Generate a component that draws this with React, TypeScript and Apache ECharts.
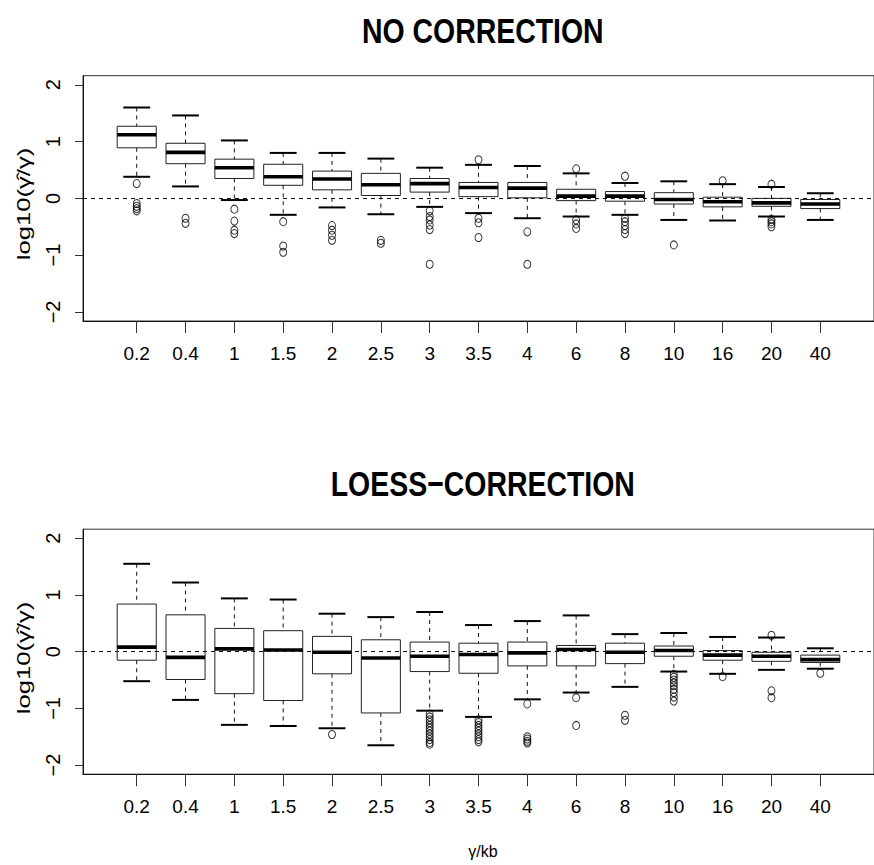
import React, { useEffect, useRef } from "react";
import * as echarts from "echarts";

// Window sizes (kb) shown along the x axis
const categories = ["0.2", "0.4", "1", "1.5", "2", "2.5", "3", "3.5", "4", "6", "8", "10", "16", "20", "40"];
const yTicks = [-2, -1, 0, 1, 2];

// Panel 1: NO CORRECTION — box statistics per window size
const rawUpper = [1.6, 1.46, 1.02, 0.8, 0.8, 0.7, 0.54, 0.59, 0.57, 0.44, 0.27, 0.3, 0.25, 0.2, 0.09];
const rawQ3 = [1.27, 0.97, 0.69, 0.6, 0.48, 0.44, 0.35, 0.28, 0.28, 0.16, 0.12, 0.1, 0.02, 0.0, -0.02];
const rawMedian = [1.12, 0.81, 0.54, 0.38, 0.34, 0.24, 0.26, 0.19, 0.18, 0.04, 0.04, -0.02, -0.06, -0.08, -0.1];
const rawQ1 = [0.89, 0.61, 0.35, 0.23, 0.15, 0.05, 0.11, 0.03, 0.01, -0.04, -0.05, -0.1, -0.15, -0.14, -0.18];
const rawLower = [0.38, 0.21, -0.03, -0.29, -0.16, -0.28, -0.15, -0.26, -0.35, -0.32, -0.29, -0.38, -0.39, -0.32, -0.38];
const rawOutliers = [
  [0.26, -0.09, -0.14, -0.18, -0.22],
  [-0.35, -0.44],
  [-0.19, -0.4, -0.56, -0.62],
  [-0.41, -0.84, -0.95],
  [-0.48, -0.56, -0.65, -0.74],
  [-0.74, -0.79],
  [-0.22, -0.32, -0.38, -0.47, -0.55, -1.16],
  [0.68, -0.35, -0.43, -0.69],
  [-0.59, -1.16],
  [0.52, -0.38, -0.45, -0.53],
  [0.39, -0.35, -0.41, -0.48, -0.55, -0.62],
  [-0.82],
  [0.31],
  [0.25, -0.37, -0.41, -0.45, -0.5],
  [],
];

// Panel 2: LOESS-CORRECTION — box statistics per window size
const loessUpper = [1.55, 1.22, 0.94, 0.92, 0.67, 0.61, 0.7, 0.47, 0.54, 0.64, 0.31, 0.33, 0.26, 0.25, 0.06];
const loessQ3 = [0.84, 0.65, 0.41, 0.37, 0.27, 0.21, 0.17, 0.15, 0.17, 0.11, 0.15, 0.1, 0.02, -0.01, -0.06];
const loessMedian = [0.08, -0.1, 0.05, 0.03, -0.01, -0.11, -0.08, -0.05, -0.02, 0.04, -0.01, 0.02, -0.06, -0.08, -0.14];
const loessQ1 = [-0.15, -0.49, -0.74, -0.86, -0.39, -1.08, -0.35, -0.38, -0.25, -0.25, -0.21, -0.08, -0.15, -0.17, -0.19];
const loessLower = [-0.52, -0.85, -1.29, -1.31, -1.35, -1.65, -1.04, -1.15, -0.84, -0.72, -0.62, -0.35, -0.39, -0.32, -0.3];
const loessOutliers = [
  [],
  [],
  [],
  [],
  [-1.46],
  [],
  [-1.1, -1.15, -1.2, -1.25, -1.3, -1.35, -1.4, -1.45, -1.5, -1.55, -1.6, -1.63],
  [-1.2, -1.25, -1.3, -1.35, -1.4, -1.45, -1.5, -1.55, -1.59],
  [-0.92, -1.5, -1.54, -1.58, -1.61],
  [-0.81, -1.3],
  [-1.12, -1.21],
  [-0.4, -0.45, -0.5, -0.55, -0.6, -0.66, -0.72, -0.8, -0.87],
  [-0.44],
  [0.29, -0.69, -0.81],
  [-0.38],
];

const FONT = "Arial, Liberation Sans, Helvetica, sans-serif";
const BOX_WIDTH = 0.8;
const STAPLE_WIDTH = 0.55;

const minusFmt = (v: number) => (v < 0 ? "\u2212" + Math.abs(v) : String(v));

function boxRenderer(params: any, api: any) {
  const x = api.value(0);
  const lo = api.coord([x, api.value(1)]);
  const q1 = api.coord([x, api.value(2)]);
  const med = api.coord([x, api.value(3)]);
  const q3 = api.coord([x, api.value(4)]);
  const hi = api.coord([x, api.value(5)]);
  const cx = lo[0];
  const half = api.size([BOX_WIDTH, 0])[0] / 2;
  const sHalf = api.size([STAPLE_WIDTH, 0])[0] / 2;
  const dashed = { stroke: "#111", lineWidth: 1, lineDash: [4, 4], fill: null };
  const solid = { stroke: "#000", lineWidth: 2, fill: null };
  return {
    type: "group",
    children: [
      { type: "line", shape: { x1: cx, y1: hi[1], x2: cx, y2: q3[1] }, style: dashed },
      { type: "line", shape: { x1: cx, y1: q1[1], x2: cx, y2: lo[1] }, style: dashed },
      { type: "line", shape: { x1: cx - sHalf, y1: hi[1], x2: cx + sHalf, y2: hi[1] }, style: solid },
      { type: "line", shape: { x1: cx - sHalf, y1: lo[1], x2: cx + sHalf, y2: lo[1] }, style: solid },
      {
        type: "rect",
        shape: { x: cx - half, y: q3[1], width: half * 2, height: q1[1] - q3[1] },
        style: { fill: "rgba(255,255,255,0)", stroke: "#222", lineWidth: 1 },
      },
      {
        type: "line",
        shape: { x1: cx - half, y1: med[1], x2: cx + half, y2: med[1] },
        style: { stroke: "#000", lineWidth: 3.6, fill: null },
      },
    ],
  };
}

function panelSeries(gi: number, lower: number[], q1: number[], med: number[], q3: number[], upper: number[], outl: number[][]) {
  const boxes = categories.map((_, i) => [i + 1, lower[i], q1[i], med[i], q3[i], upper[i]]);
  const points: number[][] = [];
  outl.forEach((arr, i) => arr.forEach((v) => points.push([i + 1, v])));
  return [
    {
      type: "custom",
      xAxisIndex: gi,
      yAxisIndex: gi,
      renderItem: boxRenderer,
      encode: { x: 0, y: [1, 2, 3, 4, 5] },
      data: boxes,
      z: 2,
      silent: true,
    },
    {
      type: "scatter",
      xAxisIndex: gi,
      yAxisIndex: gi,
      data: points,
      symbol: "circle",
      symbolSize: [7, 8],
      itemStyle: { color: "rgba(255,255,255,0)", borderColor: "#000", borderWidth: 1 },
      z: 3,
      silent: true,
      markLine: {
        silent: true,
        symbol: ["none", "none"],
        label: { show: false },
        lineStyle: { color: "#111", width: 1, type: [4, 4] },
        data: [{ yAxis: 0 }],
      },
    },
  ];
}

function xAxisFor(gi: number) {
  const vals = categories.map((_, i) => i + 1);
  return {
    type: "value",
    gridIndex: gi,
    min: -0.1,
    max: 16.1,
    splitLine: { show: false },
    axisLine: { show: true, onZero: false, lineStyle: { color: "#111", width: 1 } },
    axisTick: { show: true, length: 12, customValues: vals, lineStyle: { color: "#333", width: 1 } },
    axisLabel: {
      customValues: vals,
      margin: 23,
      fontSize: 19,
      fontFamily: FONT,
      color: "#000",
      formatter: (v: number) => categories[Math.round(v) - 1] ?? "",
    },
  };
}

function yAxisFor(gi: number) {
  return {
    type: "value",
    gridIndex: gi,
    min: -2.16,
    max: 2.16,
    splitLine: { show: false },
    axisLine: { show: true, onZero: false, lineStyle: { color: "#111", width: 1 } },
    axisTick: { show: true, length: 8, customValues: yTicks, lineStyle: { color: "#333", width: 1 } },
    axisLabel: {
      customValues: yTicks,
      rotate: 90,
      margin: 20,
      fontSize: 20,
      fontFamily: FONT,
      color: "#000",
      formatter: minusFmt,
    },
  };
}

function titleText(text: string, y: number) {
  return {
    type: "text",
    x: 482.8,
    y,
    scaleX: 0.79,
    style: {
      text,
      fontSize: 36,
      fontWeight: "bold",
      fontFamily: FONT,
      fill: "#000",
      textAlign: "center",
      textVerticalAlign: "middle",
      align: "center",
      verticalAlign: "middle",
    },
  };
}

function yLabel(y: number) {
  return {
    type: "text",
    x: 24,
    y,
    rotation: Math.PI / 2,
    scaleX: 1.35,
    style: {
      text: "log10(\u03B3\u0302/\u03B3)",
      fontSize: 19,
      fontFamily: FONT,
      fill: "#000",
      textAlign: "center",
      textVerticalAlign: "middle",
      align: "center",
      verticalAlign: "middle",
    },
  };
}

export default function App() {
  const ref = useRef<HTMLDivElement>(null);
  useEffect(() => {
    if (!ref.current) return;
    const chart = echarts.init(ref.current, null, { renderer: "svg" });
    const gridCommon = { left: 83, width: 799.7, show: true, borderColor: "#333", borderWidth: 1, backgroundColor: "transparent" };
    chart.setOption({
      animation: false,
      backgroundColor: "#fff",
      grid: [
        { ...gridCommon, top: 75.7, height: 245.3 },
        { ...gridCommon, top: 529.2, height: 245 },
      ],
      xAxis: [xAxisFor(0), xAxisFor(1)],
      yAxis: [yAxisFor(0), yAxisFor(1)],
      series: [
        ...panelSeries(0, rawLower, rawQ1, rawMedian, rawQ3, rawUpper, rawOutliers),
        ...panelSeries(1, loessLower, loessQ1, loessMedian, loessQ3, loessUpper, loessOutliers),
      ],
      graphic: [
        titleText("NO CORRECTION", 30.3),
        titleText("LOESS\u2212CORRECTION", 483.3),
        yLabel(204),
        yLabel(658),
        {
          type: "text",
          x: 483,
          y: 851,
          style: {
            text: "\u03B3/kb",
            fontSize: 16,
            fontFamily: FONT,
            fill: "#000",
            textAlign: "center",
            textVerticalAlign: "middle",
            align: "center",
            verticalAlign: "middle",
          },
        },
      ],
    });
    return () => chart.dispose();
  }, []);
  return <div ref={ref} style={{ position: "absolute", left: 0, top: 0, width: 874, height: 865 }} />;
}
